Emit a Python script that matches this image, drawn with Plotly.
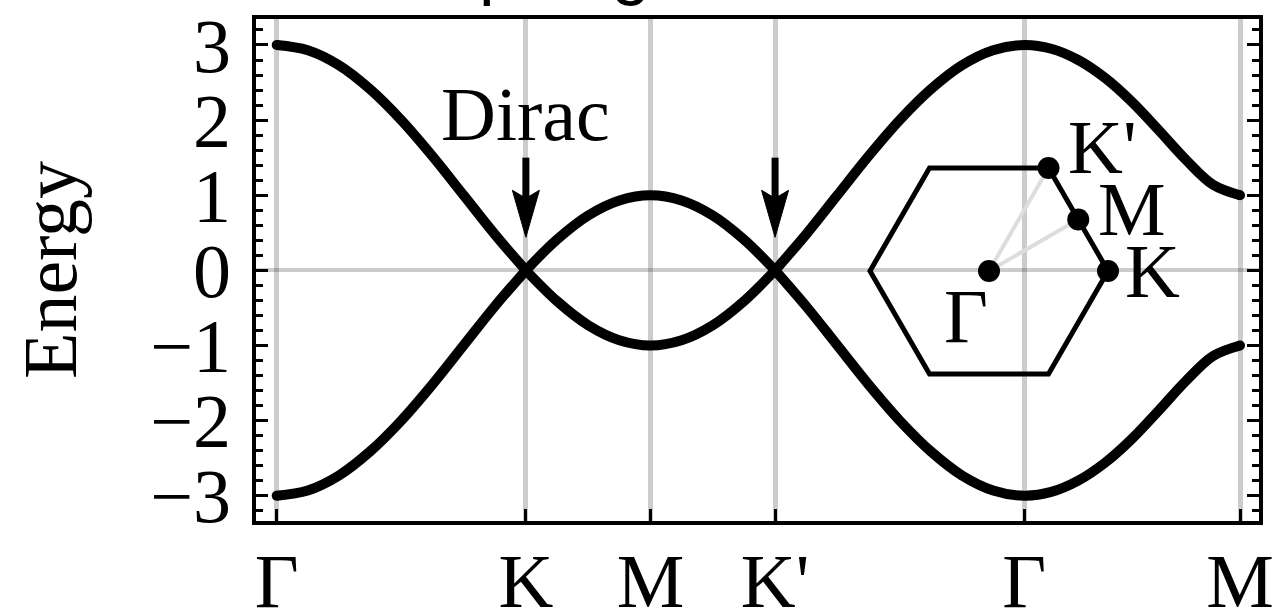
import numpy as np
import plotly.graph_objects as go

# High-symmetry points along the path (cumulative |k|, units of |ΓK|)
k_nodes = [0.0, 1.0, 1.5, 2.0, 3.0, 3.866]
k_labels = ["Γ", "K", "M", "K'", "Γ", "M"]

# Conduction band, one list per leg of the path
cb_gamma_k = [3.00, 2.93, 2.73, 2.41, 2.00, 1.52, 1.00, 0.48, 0.00]
cb_k_m = [0.00, 0.41, 0.73, 0.93, 1.00]
cb_m_kp = [1.00, 0.93, 0.73, 0.41, 0.00]
cb_kp_gamma = [0.00, 0.48, 1.00, 1.52, 2.00, 2.41, 2.73, 2.93, 3.00]
cb_gamma_m = [3.00, 2.95, 2.80, 2.56, 2.24, 1.86, 1.47, 1.14, 1.00]

# Valence band
vb_gamma_k = [-3.00, -2.93, -2.73, -2.41, -2.00, -1.52, -1.00, -0.48, 0.00]
vb_k_m = [0.00, -0.41, -0.73, -0.93, -1.00]
vb_m_kp = [-1.00, -0.93, -0.73, -0.41, 0.00]
vb_kp_gamma = [0.00, -0.48, -1.00, -1.52, -2.00, -2.41, -2.73, -2.93, -3.00]
vb_gamma_m = [-3.00, -2.95, -2.80, -2.56, -2.24, -1.86, -1.47, -1.14, -1.00]

# Dirac-point arrows (energy of tail and tip)
arrow_tail = 1.50
arrow_tip = 0.44

# Brillouin-zone inset (hexagon corners, circumradius = 1)
bz_x = [1.0, 0.5, -0.5, -1.0, -0.5, 0.5, 1.0]
bz_y = [0.0, 0.866, 0.866, 0.0, -0.866, -0.866, 0.0]
bz_pts = {"Γ": (0.0, 0.0), "K": (1.0, 0.0), "M": (0.75, 0.433), "K'": (0.5, 0.866)}

# ---- layout constants ----
W, H = 1273, 613
ML, MR, MT, MB = 256, 14, 19, 92
XR = [-0.083, 3.942]
YR = [-3.337, 3.346]
plot_w = W - ML - MR
plot_h = H - MT - MB
px_x = plot_w / (XR[1] - XR[0])
px_y = plot_h / (YR[1] - YR[0])

SERIF = "Liberation Serif, Times New Roman, serif"
FS = 76
BLACK = "#000000"
GRID = "rgba(0,0,0,0.2)"


def leg_x(i, n):
    return list(np.linspace(k_nodes[i], k_nodes[i + 1], n))


def band_path(legs):
    # legs: list of 5 value lists; kinks at K and K' split the curve
    xa = leg_x(0, len(legs[0]))
    ya = list(legs[0])
    xb = leg_x(1, len(legs[1])) + leg_x(2, len(legs[2]))[1:]
    yb = list(legs[1]) + list(legs[2])[1:]
    xc = leg_x(3, len(legs[3])) + leg_x(4, len(legs[4]))[1:]
    yc = list(legs[3]) + list(legs[4])[1:]
    return xa + [None] + xb + [None] + xc, ya + [None] + yb + [None] + yc


cb = [cb_gamma_k, cb_k_m, cb_m_kp, cb_kp_gamma, cb_gamma_m]
vb = [vb_gamma_k, vb_k_m, vb_m_kp, vb_kp_gamma, vb_gamma_m]

fig = go.Figure()

for legs in (cb, vb):
    bx, by = band_path(legs)
    fig.add_trace(go.Scatter(
        x=bx, y=by, mode="lines", connectgaps=False,
        line=dict(color=BLACK, width=10, shape="spline", smoothing=1.0),
        hoverinfo="skip", showlegend=False))
    # rounded ends of the bands
    fig.add_trace(go.Scatter(
        x=[k_nodes[0], k_nodes[-1]], y=[legs[0][0], legs[-1][-1]],
        mode="markers", marker=dict(color=BLACK, size=10),
        hoverinfo="skip", showlegend=False, cliponaxis=False))

# ---- inset: hexagonal Brillouin zone ----
gx, gy = bz_pts["Γ"]
for name in ("K'", "M"):
    px_, py_ = bz_pts[name]
    fig.add_trace(go.Scatter(
        x=[gx, px_], y=[gy, py_], mode="lines", xaxis="x2", yaxis="y2",
        line=dict(color="#dddddd", width=4), hoverinfo="skip", showlegend=False))
fig.add_trace(go.Scatter(
    x=bz_x, y=bz_y, mode="lines", xaxis="x2", yaxis="y2",
    line=dict(color=BLACK, width=5), hoverinfo="skip", showlegend=False))
fig.add_trace(go.Scatter(
    x=[bz_pts[n][0] for n in bz_pts], y=[bz_pts[n][1] for n in bz_pts],
    mode="markers", xaxis="x2", yaxis="y2", cliponaxis=False,
    marker=dict(color=BLACK, size=22), hoverinfo="skip", showlegend=False))

inset_label_pos = {
    "K'": dict(xanchor="left", xshift=17, yshift=-23),
    "M": dict(xanchor="left", xshift=18, yshift=-34),
    "K": dict(xanchor="left", xshift=15, yshift=-44),
    "Γ": dict(xanchor="center", xshift=-23, yshift=-89),
}
for name, opts in inset_label_pos.items():
    fig.add_annotation(
        x=bz_pts[name][0], y=bz_pts[name][1], xref="x2", yref="y2",
        text=name, showarrow=False, yanchor="bottom",
        font=dict(family=SERIF, size=FS, color=BLACK), **opts)

# ---- Dirac arrows ----
head_half = 13.5 / px_x
head_len = 47 / px_y
notch = 39 / px_y
shapes = []
for kx in (k_nodes[1], k_nodes[3]):
    shapes.append(dict(type="line", xref="x", yref="y", x0=kx, x1=kx,
                       y0=arrow_tail, y1=arrow_tip + notch,
                       line=dict(color=BLACK, width=7)))
    shapes.append(dict(
        type="path", xref="x", yref="y",
        path=(f"M {kx},{arrow_tip} L {kx - head_half},{arrow_tip + head_len} "
              f"L {kx},{arrow_tip + notch} L {kx + head_half},{arrow_tip + head_len} Z"),
        fillcolor=BLACK, line=dict(color=BLACK, width=1)))

fig.add_annotation(
    x=k_nodes[1], y=1.73, xref="x", yref="y", text="Dirac", showarrow=False,
    xanchor="center", yanchor="bottom", yshift=-18,
    font=dict(family=SERIF, size=FS, color=BLACK))

# title, mostly above the visible page
fig.add_annotation(
    x=(403 - ML) / plot_w, y=(H - MB - 8) / plot_h, xref="paper", yref="paper",
    text="Topological band structure", showarrow=False,
    xanchor="left", yanchor="bottom",
    font=dict(family="Liberation Sans, Arial, sans-serif", size=70, color=BLACK))

fig.update_layout(
    width=W, height=H, autosize=False,
    margin=dict(l=ML, r=MR, t=MT, b=MB, pad=0, autoexpand=False),
    paper_bgcolor="white", plot_bgcolor="rgba(0,0,0,0)",
    shapes=shapes,
    xaxis=dict(
        range=XR, tickmode="array", tickvals=k_nodes, ticktext=k_labels,
        ticks="inside", ticklen=12, tickwidth=3, tickcolor=BLACK,
        showline=True, linecolor=BLACK, linewidth=3.5, mirror=True,
        showgrid=True, gridcolor=GRID, gridwidth=5, zeroline=False,
        ticklabelstandoff=-9, automargin=False, ticklabeloverflow="allow",
        tickfont=dict(family=SERIF, size=FS, color=BLACK),
    ),
    yaxis=dict(
        range=YR, tick0=0, dtick=1,
        ticks="inside", ticklen=12, tickwidth=3, tickcolor=BLACK,
        minor=dict(dtick=0.2, tick0=0, ticks="inside", ticklen=7, tickwidth=3,
                   tickcolor=BLACK, showgrid=False),
        showline=True, linecolor=BLACK, linewidth=3.5, mirror="ticks",
        showgrid=False, zeroline=True, zerolinecolor=GRID, zerolinewidth=4,
        ticklabelstandoff=6, automargin=False,
        tickfont=dict(family=SERIF, size=FS, color=BLACK),
        title=dict(text="Energy", standoff=50,
                   font=dict(family=SERIF, size=FS, color=BLACK)),
    ),
    xaxis2=dict(domain=[(850 - ML) / plot_w, (1128 - ML) / plot_w],
                range=[-1.168, 1.168], visible=False, anchor="y2"),
    yaxis2=dict(domain=[(H - MB - 392) / plot_h, (H - MB - 150) / plot_h],
                range=[-1.017, 1.017], visible=False, anchor="x2"),
)

fig.write_html("out.html")
